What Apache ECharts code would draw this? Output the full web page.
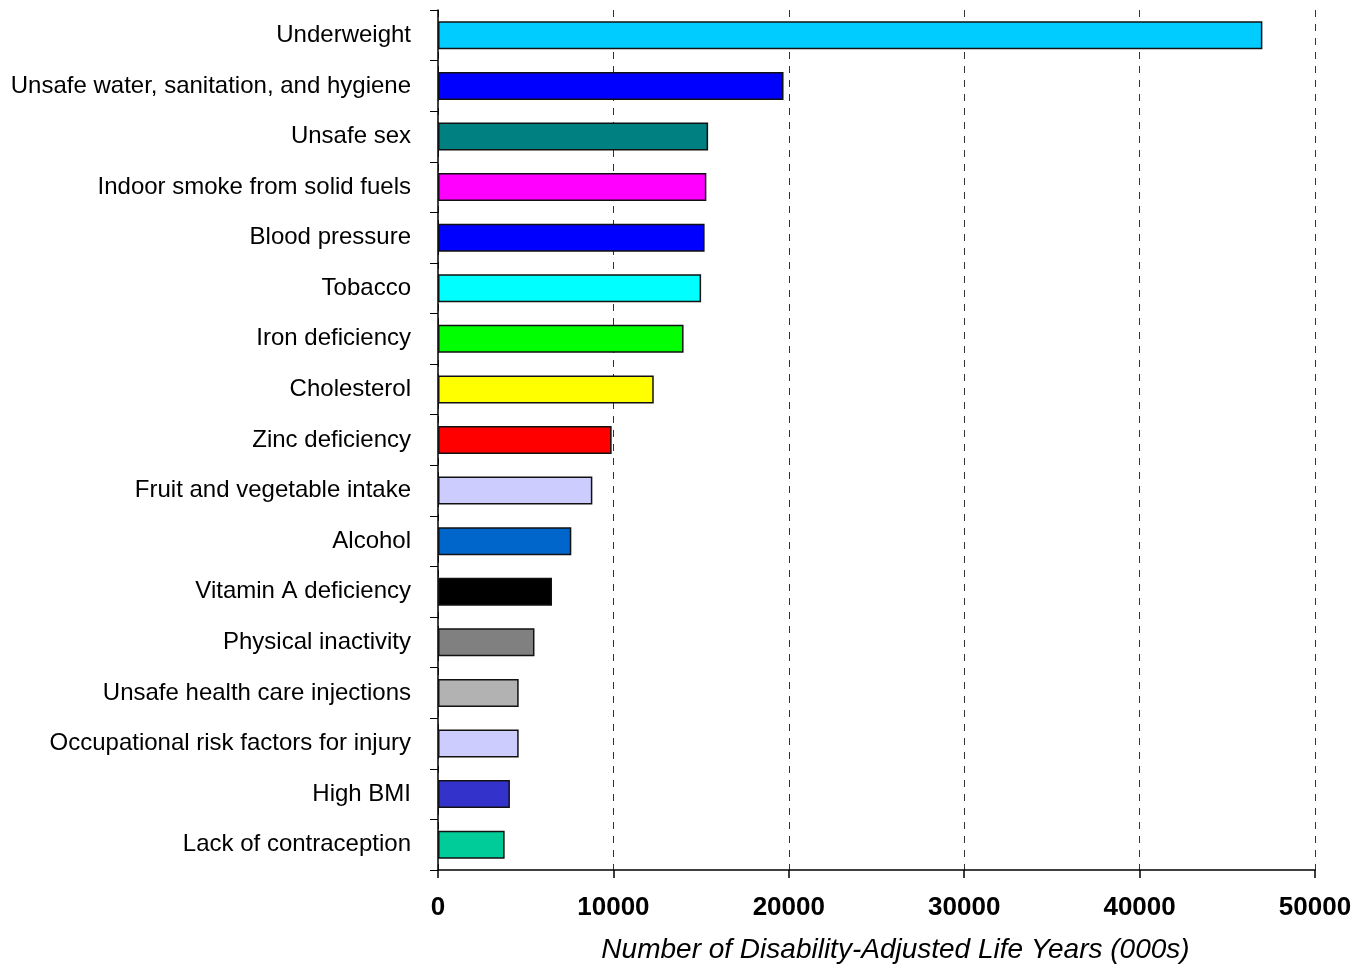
<!DOCTYPE html>
<html>
<head>
<meta charset="utf-8">
<script src="https://cdn.jsdelivr.net/npm/echarts@6/dist/echarts.min.js"></script>
<style>
html,body{margin:0;padding:0;background:#fff;}
#chart{width:1358px;height:968px;}
</style>
</head>
<body>
<div id="chart"></div>
<script>
const categories = [
  "Underweight",
  "Unsafe water, sanitation, and hygiene",
  "Unsafe sex",
  "Indoor smoke from solid fuels",
  "Blood pressure",
  "Tobacco",
  "Iron deficiency",
  "Cholesterol",
  "Zinc deficiency",
  "Fruit and vegetable intake",
  "Alcohol",
  "Vitamin A deficiency",
  "Physical inactivity",
  "Unsafe health care injections",
  "Occupational risk factors for injury",
  "High BMI",
  "Lack of contraception"
];
const dalys = [47000, 19700, 15400, 15300, 15200, 15000, 14000, 12300, 9900, 8800, 7600, 6500, 5500, 4600, 4600, 4100, 3800];
const barColors = ["#00CCFF", "#0000FF", "#008080", "#FF00FF", "#0000FF", "#00FFFF", "#00FF00", "#FFFF00", "#FF0000", "#CCCCFF", "#0066CC", "#000000", "#808080", "#B2B2B2", "#CCCCFF", "#3333CC", "#00CC99"];
const xTicks = [0, 10000, 20000, 30000, 40000, 50000];
const xName = "Number of Disability-Adjusted Life Years (000s)";

const chart = echarts.init(document.getElementById('chart'));
chart.setOption({
  animation: false,
  backgroundColor: '#fff',
  grid: {left: 438, right: 43, top: 10, bottom: 98, containLabel: false, outerBoundsMode: 'none'},
  xAxis: {
    type: 'value',
    min: xTicks[0], max: xTicks[xTicks.length - 1], interval: 10000,
    name: xName,
    nameLocation: 'middle',
    nameGap: 66,
    nameTextStyle: {fontFamily: '"Liberation Sans Narrow", "Arial Narrow", "Liberation Sans", sans-serif', fontStyle: 'italic', fontSize: 28, color: '#000', padding: [0, 0, 0, 38]},
    axisLine: {show: true, lineStyle: {color: '#000', width: 1.5}},
    axisTick: {show: true, length: 8, lineStyle: {color: '#000', width: 1.5}},
    axisLabel: {color: '#000', fontFamily: '"Liberation Sans", Arial, sans-serif', fontWeight: 'bold', fontSize: 26, margin: 25, formatter: v => String(v)},
    splitLine: {show: true, lineStyle: {color: '#333', type: [7, 7], width: 1}}
  },
  yAxis: {
    type: 'category',
    data: categories,
    inverse: true,
    axisLine: {show: true, lineStyle: {color: '#000', width: 1.5}},
    axisTick: {show: true, length: 8, alignWithLabel: false, lineStyle: {color: '#000', width: 1}},
    axisLabel: {color: '#000', fontFamily: '"Liberation Sans Narrow", "Arial Narrow", "Liberation Sans", sans-serif', fontSize: 24, margin: 27},
    splitLine: {show: false}
  },
  series: [{
    type: 'bar',
    data: dalys.map((v, i) => ({value: v, itemStyle: {color: barColors[i]}})),
    barWidth: 28,
    itemStyle: {borderColor: '#111', borderWidth: 1.5}
  }]
});
</script>
</body>
</html>
